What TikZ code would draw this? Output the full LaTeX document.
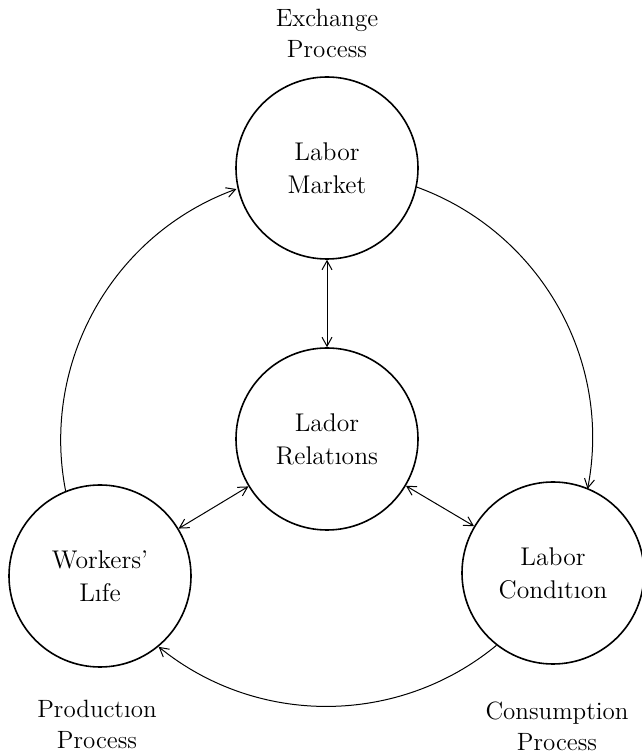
\documentclass[tikz,border=0pt]{standalone}
\usepackage{tikz}
\usetikzlibrary{arrows.meta}

\tikzset{
  proc/.style={draw, circle, line width=0.8pt, minimum size=91pt, inner sep=0pt, align=center, font=\fontsize{12.8}{16.5}\selectfont},
  side/.style={align=center, font=\fontsize{12.5}{15.5}\selectfont},
  link/.style={line width=0.5pt, >={Straight Barb[length=4.5pt,width=5pt]}}
}

\begin{document}
\begin{tikzpicture}[x=0.5pt,y=0.5pt]
        \useasboundingbox (0,0) rectangle (642,756);
        \node[proc] (market) at (327,588) {Labor\\Market};
        \node[proc] (rel) at (327,317) {Lador\\Relat\i ons};
        \node[proc] (life) at (100,180) {Workers'\\L\i fe};
        \node[proc] (cond) at (553,183) {Labor\\Cond\i t\i on};
        \node[side] (exch) at (327,723) {Exchange\\Process};
        \node[side] (prod) at (97,32) {Product\i on\\Process};
        \node[side] (cons) at (557,30) {Consumption\\Process};
        \draw[link,<->] (market) -- (rel);
        \draw[link,<->] (rel) -- (life);
        \draw[link,<->] (rel) -- (cond);
        \draw[link,->] (life.112) arc[start angle=191, end angle=110, radius=133.5pt];
        \draw[link,->] (market.-12) arc[start angle=70, end angle=-11, radius=133.5pt];
        \draw[link,->] (cond.232) arc[start angle=-50.5, end angle=-129, radius=133.5pt];
    \end{tikzpicture}
\end{document}
